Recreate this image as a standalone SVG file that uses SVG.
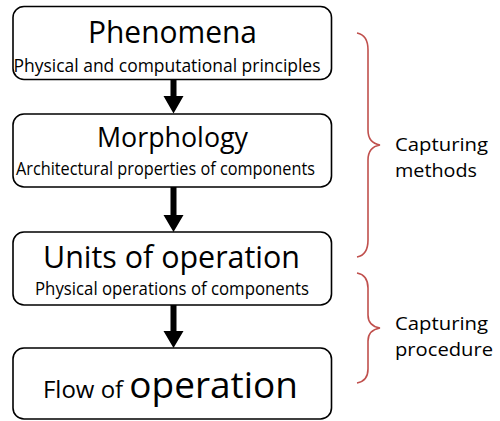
<svg xmlns="http://www.w3.org/2000/svg" width="500" height="421" viewBox="0 0 500 421">
<style>
.box{fill:#fff;stroke:#000;stroke-width:1.6}
.t{font-family:"Open Sans","Noto Sans","DejaVu Sans",sans-serif;fill:#000;text-anchor:middle}
.l{font-family:"Open Sans","Noto Sans","DejaVu Sans",sans-serif;fill:#000;font-size:19px}
.br{fill:none;stroke:#c0504d;stroke-width:1.6}
.arr{fill:#000}
</style>
<rect width="500" height="421" fill="#fff"/>
<g id="phenomena">
<rect class="box" x="13" y="6.5" width="318.5" height="73" rx="11"/>
<text class="t" x="172.5" y="43" font-size="30.5" textLength="169" lengthAdjust="spacingAndGlyphs">Phenomena</text>
<text class="t" x="167" y="72" font-size="18.5" textLength="307" lengthAdjust="spacingAndGlyphs">Physical and computational principles</text>
</g>
<g id="morphology">
<rect class="box" x="13" y="114" width="318.5" height="73" rx="11"/>
<text class="t" x="172.5" y="147" font-size="27" textLength="151" lengthAdjust="spacingAndGlyphs">Morphology</text>
<text class="t" x="165.5" y="175" font-size="18.5" textLength="299" lengthAdjust="spacingAndGlyphs">Architectural properties of components</text>
</g>
<g id="units">
<rect class="box" x="13" y="232" width="318.5" height="73" rx="11"/>
<text class="t" x="171.5" y="268" font-size="31" textLength="257" lengthAdjust="spacingAndGlyphs">Units of operation</text>
<text class="t" x="172" y="295" font-size="17.5" textLength="274" lengthAdjust="spacingAndGlyphs">Physical operations of components</text>
</g>
<g id="flow">
<rect class="box" x="13" y="348" width="318.5" height="71" rx="11"/>
<text class="t" x="170.5" y="398" font-size="24" textLength="255" lengthAdjust="spacingAndGlyphs"><tspan>Flow of </tspan><tspan font-size="37">operation</tspan></text>
</g>
<g id="connectors">
<path class="arr" d="M170.5,80 h6 v16 h7 l-10,17.5 l-10,-17.5 h7 z"/>
<path class="arr" d="M170.5,187 h6 v28 h7 l-10,17 l-10,-17 h7 z"/>
<path class="arr" d="M170.5,305 h6 v26 h7 l-10,17 l-10,-17 h7 z"/>
</g>
<g id="brace-methods">
<path class="br" d="M357,33 Q368,35 368,50 L368,130 Q368,143 380,145 Q368,147 368,160 L368,240 Q368,255 357,257"/>
<text class="l" x="395" y="151" textLength="93" lengthAdjust="spacingAndGlyphs">Capturing</text>
<text class="l" x="395" y="177" textLength="82" lengthAdjust="spacingAndGlyphs">methods</text>
</g>
<g id="brace-procedure">
<path class="br" d="M357,273 Q368,275 368,288 L368,315 Q368,326 380,328 Q368,330 368,341 L368,369 Q368,381 357,383"/>
<text class="l" x="395" y="330" textLength="93" lengthAdjust="spacingAndGlyphs">Capturing</text>
<text class="l" x="395" y="356" textLength="98" lengthAdjust="spacingAndGlyphs">procedure</text>
</g>
</svg>
